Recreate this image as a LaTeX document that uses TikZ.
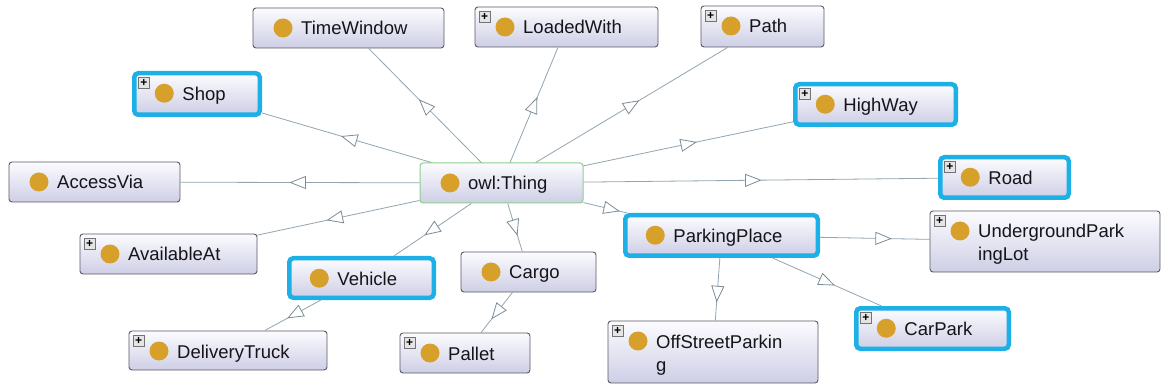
\documentclass[tikz,border=0pt]{standalone}
\usepackage{fontspec}
\setmainfont{Liberation Sans}
\usetikzlibrary{decorations.markings}
\definecolor{boxtop}{RGB}{252,252,255}
\definecolor{boxbot}{RGB}{206,206,230}
\definecolor{boxline}{RGB}{90,90,100}
\definecolor{selblue}{RGB}{28,176,230}
\definecolor{thinggreen}{RGB}{140,208,140}
\definecolor{dotgold}{RGB}{214,160,42}
\definecolor{edgecol}{RGB}{145,165,178}
\definecolor{txtcol}{RGB}{20,20,25}
\tikzset{
  obox/.style={rectangle, rounded corners=3pt, draw=boxline, line width=0.9pt,
    top color=boxtop, bottom color=boxbot, inner sep=0pt},
  selbox/.style={obox, draw=selblue, line width=4.5pt, rounded corners=4pt},
  thingbox/.style={obox, draw=thinggreen, line width=1pt},
  dotnode/.style={circle, fill=dotgold, minimum size=19pt, inner sep=0pt},
  lbl/.style={anchor=base west, inner sep=0pt, text=txtcol, font=\fontsize{18.5}{23}\selectfont},
  plusbox/.style={rectangle, draw=gray!90!black, fill=gray!20, minimum size=11pt, inner sep=0pt,
    anchor=north west, font=\fontsize{12}{12}\selectfont\bfseries, text=black},
  link/.style={draw=edgecol, line width=0.8pt},
  subarrow/.style={decoration={markings, mark=at position 0.5 with
    {\draw[draw=edgecol!85!black, fill=white, line width=0.8pt, line join=miter]
      (7.5pt,0pt) -- (-7.5pt,6pt) -- (-7.5pt,-6pt) -- cycle;}},
    postaction={decorate}},
}
\newcommand\ogclass[7]{%
  \node[#2, minimum width=#5pt, minimum height=#6pt] (#1) at ({#3+#5/2},{#4+#6/2}) {};
  \node[dotnode] (#1-dot) at ({#3+30},{#4+20}) {};
  \node[lbl] (#1-txt) at ({#3+48},{#4+27}) {#7};}
\newcommand\ogplus[3]{\node[plusbox] (#1-plus) at ({#2+4},{#3+4}) {+};}
\begin{document}
\begin{tikzpicture}[x=1pt, y=-1pt]
\fill[white] (0,0) rectangle (1161,387);
\useasboundingbox (0,0) rectangle (1161,387);
% classes
\ogclass{tw}{obox}{253}{8}{191}{40}{TimeWindow}
\ogclass{lw}{obox}{475}{7}{183}{40}{LoadedWith} \ogplus{lw}{475}{7}
\ogclass{path}{obox}{701}{6}{123}{41}{Path} \ogplus{path}{701}{6}
\ogclass{shop}{selbox}{134.25}{73.25}{125.5}{41.5}{Shop} \ogplus{shop}{134.25}{73.25}
\ogclass{hw}{selbox}{795.25}{84.25}{160.5}{40.5}{HighWay} \ogplus{hw}{795.25}{84.25}
\ogclass{av}{obox}{9}{162}{171}{40}{AccessVia}
\ogclass{thing}{thingbox}{420}{163}{163}{40}{owl:Thing}
\ogclass{road}{selbox}{940.25}{157.25}{128.5}{40.5}{Road} \ogplus{road}{940.25}{157.25}
\ogclass{avail}{obox}{80}{234}{177}{40}{AvailableAt} \ogplus{avail}{80}{234}
\ogclass{pp}{selbox}{625.25}{215.25}{192.5}{40.5}{ParkingPlace}
\ogclass{ugl}{obox}{930}{211}{230}{61}{UndergroundPark} \ogplus{ugl}{930}{211}
\node[lbl] (ugl-txt2) at (978,261) {ingLot};
\ogclass{veh}{selbox}{289.25}{258.25}{144.5}{39.5}{Vehicle}
\ogclass{cargo}{obox}{461}{252}{135}{40}{Cargo}
\ogclass{cp}{selbox}{856.25}{308.25}{152.5}{40.5}{CarPark} \ogplus{cp}{856.25}{308.25}
\ogclass{dt}{obox}{129}{331}{198}{39}{DeliveryTruck} \ogplus{dt}{129}{331}
\ogclass{pallet}{obox}{400}{333}{130}{40}{Pallet} \ogplus{pallet}{400}{333}
\ogclass{osp}{obox}{608}{321}{210}{62}{OffStreetParkin} \ogplus{osp}{608}{321}
\node[lbl] (osp-txt2) at (656,371) {g};
% connectors
\foreach \a/\b in {thing/tw, thing/lw, thing/path, thing/shop, thing/hw, thing/av,
  thing/road, thing/avail, thing/pp, thing/veh, thing/cargo,
  pp/ugl, pp/osp, pp/cp, veh/dt, cargo/pallet}{
  \draw[link] (\a) -- (\b);
  \path[subarrow] (\a.center) -- (\b.center);
}
\end{tikzpicture}
\end{document}
